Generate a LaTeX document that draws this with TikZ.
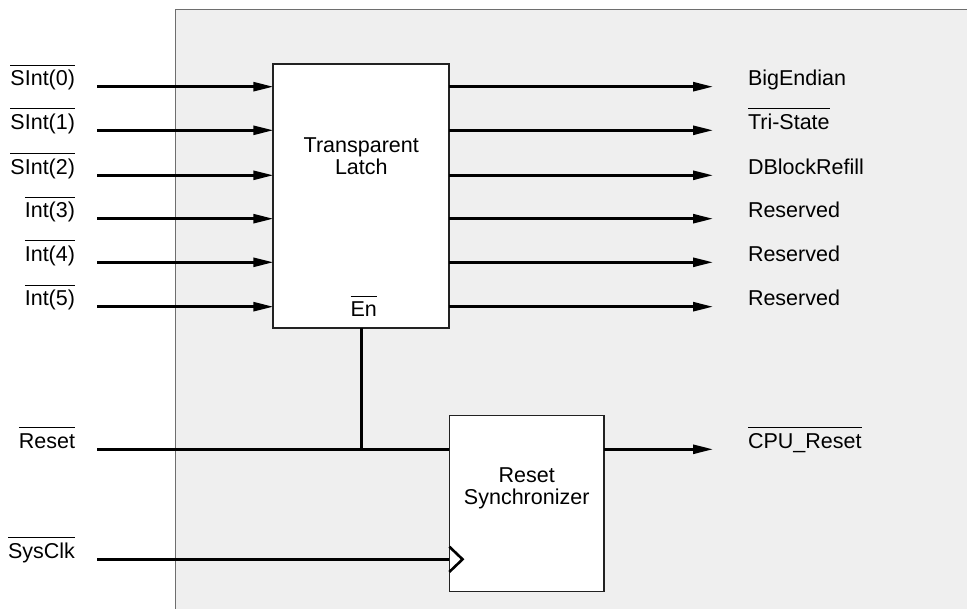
\documentclass[tikz,border=0pt]{standalone}
\usepackage{fontspec}
\setmainfont{Liberation Sans}
\usetikzlibrary{arrows.meta}
\definecolor{panel}{HTML}{EFEFEF}
\definecolor{panelline}{HTML}{6E6E6E}
\definecolor{boxline}{HTML}{222222}
\newsavebox\ovlbox
\newcommand\ovl[1]{\sbox\ovlbox{#1}\rlap{\rule[20pt]{\wd\ovlbox}{1.1pt}}\usebox\ovlbox}
\begin{document}
\begin{tikzpicture}[x=1pt,y=-1pt,
  every node/.style={inner sep=0pt, outer sep=0pt, font=\fontsize{21.5pt}{22pt}\selectfont},
  blk/.style={draw=boxline, fill=white, rectangle},
  sig/.style={line width=2.6pt, black},
  arr/.style={sig, -{Triangle[length=20pt,width=9pt]}}]
\useasboundingbox (0,0) rectangle (967,609);
\clip (0,0) rectangle (967,609);
\draw[panelline, line width=1.5pt, fill=panel] (175.5,9.5) rectangle (1000,700);
% blocks
\node[blk, line width=2pt, minimum width=176pt, minimum height=263.4pt] (latch) at (361.3,196) {};
\node[blk, line width=1.5pt, minimum width=154.7pt, minimum height=176pt] (sync) at (526.7,503.7) {};
\node[anchor=base, align=center] (latchtxt) at (361.3,175) {Transparent\\Latch};
\node[anchor=base] (en) at (363.8,317) {\ovl{En}};
\node[anchor=base, align=center] (synctxt) at (526.7,504) {Reset\\Synchronizer};
% inputs
\foreach \n/\y/\t in {0/86.7/SInt(0),1/130.3/SInt(1),2/175.3/SInt(2),3/218.7/Int(3),4/262.3/Int(4),5/306.7/Int(5)} {
  \node[anchor=base east] (inl\n) at (75,\y-1) {\ovl{\t}};
  \coordinate (in\n) at (97,\y);
  \draw[arr] (in\n) -- (in\n -| latch.west);
}
% outputs
\foreach \n/\y/\t in {0/86.7/BigEndian,1/130.3/\ovl{Tri-State},2/175.3/DBlockRefill,3/218.7/Reserved,4/262.3/Reserved,5/306.7/Reserved} {
  \coordinate (out\n) at (713,\y);
  \node[anchor=base west] (outl\n) at (748,\y-1) {\t};
  \draw[arr] (latch.east |- out\n) -- (out\n);
}
% reset
\node[anchor=base east] (rstl) at (75,448.3) {\ovl{Reset}};
\coordinate (rstin) at (97,449.3);
\coordinate (jn) at (latch.south |- rstin);
\draw[sig] (rstin) -- (rstin -| sync.west);
\draw[sig] (latch.south) -- (jn);
\coordinate (cpuout) at (713,449.3);
\draw[arr] (sync.east |- rstin) -- (cpuout);
\node[anchor=base west] (cpul) at (748,448.3) {\ovl{CPU\_Reset}};
% clock
\node[anchor=base east] (clkl) at (75,558.3) {\ovl{SysClk}};
\coordinate (clkin) at (97,559.3);
\draw[sig] (clkin) -- (clkin -| sync.west);
\draw[sig, miter limit=10] (sync.west |- clkin) ++(0,-12.6) -- ++(13.2,12.6) -- ++(-13.2,12.6);
\end{tikzpicture}
\end{document}
